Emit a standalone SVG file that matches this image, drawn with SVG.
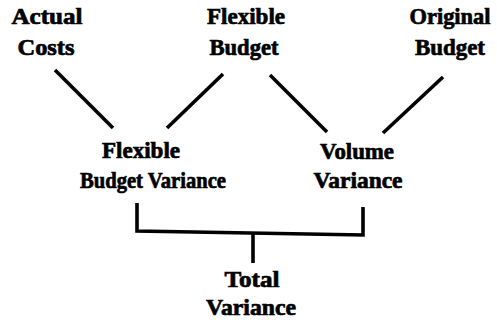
<svg xmlns="http://www.w3.org/2000/svg" width="497" height="326" viewBox="0 0 497 326">
<style>
text{font-family:"Liberation Serif","Times New Roman","DejaVu Serif",serif;font-weight:bold;font-size:23px;fill:#000;stroke:#000;stroke-width:0.7;text-anchor:middle}
.c{stroke:#000;stroke-width:3.6;fill:none;stroke-linecap:butt;stroke-linejoin:miter}
</style>
<rect width="497" height="326" fill="#fff"/>
<g id="actual-costs">
<text x="47" y="24" textLength="71" lengthAdjust="spacingAndGlyphs">Actual</text>
<text x="46" y="55" textLength="57" lengthAdjust="spacingAndGlyphs">Costs</text>
</g>
<g id="flexible-budget">
<text x="246" y="24" textLength="78" lengthAdjust="spacingAndGlyphs">Flexible</text>
<text x="244" y="55" textLength="69" lengthAdjust="spacingAndGlyphs">Budget</text>
</g>
<g id="original-budget">
<text x="450" y="24" textLength="81" lengthAdjust="spacingAndGlyphs">Original</text>
<text x="450" y="55" textLength="70" lengthAdjust="spacingAndGlyphs">Budget</text>
</g>
<g id="flexible-budget-variance">
<text x="141" y="158" textLength="78" lengthAdjust="spacingAndGlyphs">Flexible</text>
<text x="153" y="188" textLength="146" lengthAdjust="spacingAndGlyphs">Budget Variance</text>
</g>
<g id="volume-variance">
<text x="357" y="159" textLength="74" lengthAdjust="spacingAndGlyphs">Volume</text>
<text x="358" y="188" textLength="89" lengthAdjust="spacingAndGlyphs">Variance</text>
</g>
<g id="total-variance">
<text x="252" y="287" textLength="55" lengthAdjust="spacingAndGlyphs">Total</text>
<text x="251" y="315" textLength="90" lengthAdjust="spacingAndGlyphs">Variance</text>
</g>
<g id="connectors">
<line class="c" x1="55" y1="70" x2="113" y2="128"/>
<line class="c" x1="223" y1="74" x2="167" y2="128"/>
<line class="c" x1="270" y1="75" x2="327" y2="132"/>
<line class="c" x1="443" y1="77" x2="383" y2="133"/>
<path class="c" d="M137,203 L137,231 L363,235 L363,207"/>
<line class="c" x1="253" y1="233" x2="253" y2="263"/>
</g>
</svg>
